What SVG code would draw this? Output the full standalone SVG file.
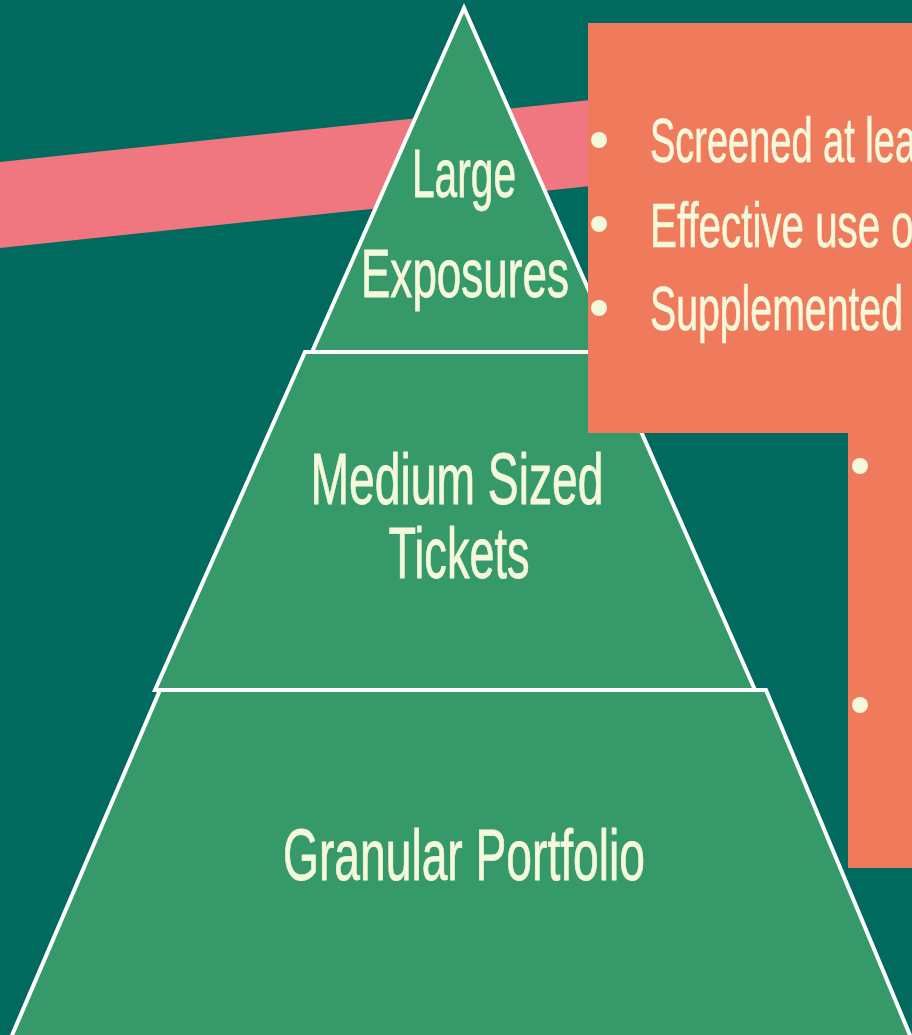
<svg xmlns="http://www.w3.org/2000/svg" width="912" height="1035" viewBox="0 0 912 1035">
  <style>
    .tier { fill: #36996A; stroke: #FFFFFF; stroke-width: 4; stroke-linejoin: miter; }
    .lbl { font-family: "Liberation Sans", Arial, sans-serif; fill: #F5F8DA; stroke: #F5F8DA; stroke-width: 0.8; text-anchor: middle; }
    .bul { font-family: "Liberation Sans", Arial, sans-serif; fill: #F5F8DA; stroke: #F5F8DA; stroke-width: 0.7; font-size: 63px; }
    .dot { fill: #F5F8DA; }
  </style>
  <rect id="background" x="0" y="0" width="912" height="1035" fill="#006A5E"/>
  <polygon id="band" points="0,162 600,99 600,185 0,248" fill="#F07780"/>

  <g id="tier-top">
    <polygon class="tier" points="464,8 312,352 616,352"/>
    <text class="lbl" x="464" y="197" font-size="68" textLength="104" lengthAdjust="spacingAndGlyphs">Large</text>
    <text class="lbl" x="465" y="297" font-size="68" textLength="208" lengthAdjust="spacingAndGlyphs">Exposures</text>
  </g>

  <g id="tier-middle">
    <polygon class="tier" points="305,352 606,352 755,690 155,690"/>
    <text class="lbl" x="457" y="504" font-size="72" textLength="293" lengthAdjust="spacingAndGlyphs">Medium Sized</text>
    <text class="lbl" x="459" y="578" font-size="72" textLength="141" lengthAdjust="spacingAndGlyphs">Tickets</text>
  </g>

  <g id="tier-bottom">
    <polygon class="tier" points="160,690 766,690 912,1040 10,1040"/>
    <text class="lbl" x="464" y="880" font-size="72" textLength="362" lengthAdjust="spacingAndGlyphs">Granular Portfolio</text>
  </g>

  <g id="callout">
    <path d="M588,23 H912 V868 H848 V433 H588 Z" fill="#EF7B5C"/>
    <circle class="dot" cx="599" cy="140" r="8"/>
    <circle class="dot" cx="599" cy="224" r="8"/>
    <circle class="dot" cx="599" cy="308" r="8"/>
    <text class="bul" x="650" y="162" textLength="266" lengthAdjust="spacingAndGlyphs">Screened at lea</text>
    <text class="bul" x="650" y="247" textLength="275" lengthAdjust="spacingAndGlyphs">Effective use of</text>
    <text class="bul" x="650" y="330" textLength="253" lengthAdjust="spacingAndGlyphs">Supplemented</text>
    <circle class="dot" cx="860" cy="466" r="8"/>
    <circle class="dot" cx="860" cy="705" r="8"/>
  </g>
</svg>
